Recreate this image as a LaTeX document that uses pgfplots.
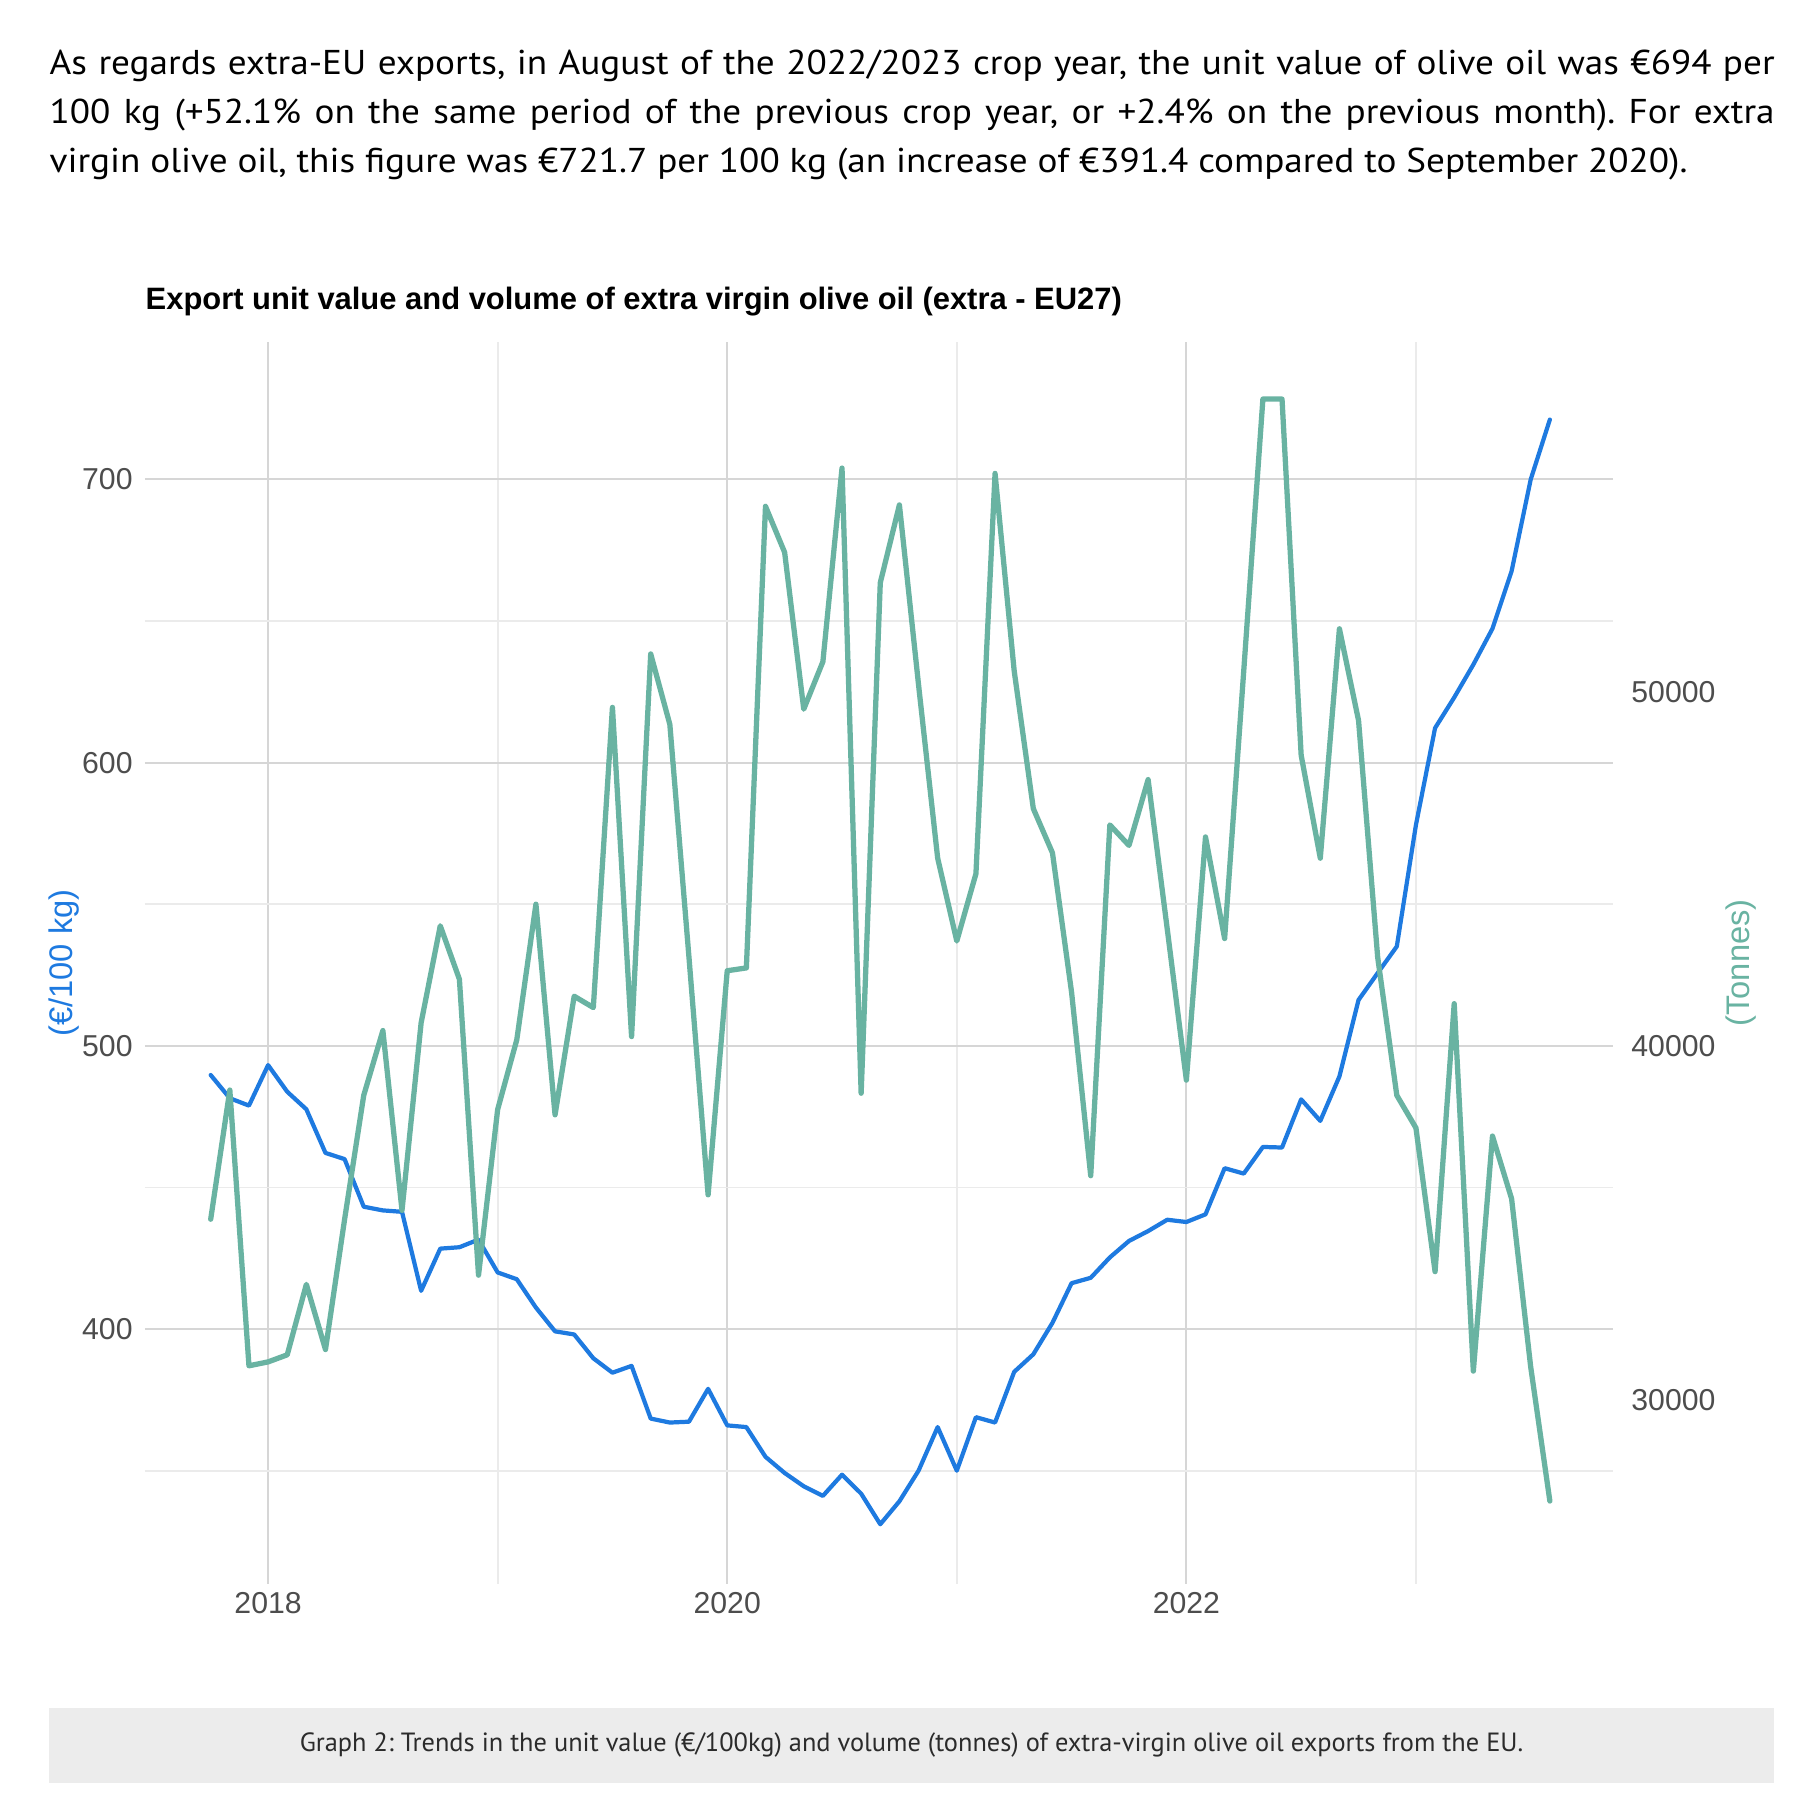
\documentclass[border=0pt]{standalone}
\usepackage{pgfplots}
\usepackage{pgfplotstable}
\pgfplotsset{compat=1.18}
\usepackage{fontspec}
\setmainfont{Liberation Sans}
\newfontfamily\ptsans{PT Sans}
\newfontfamily\ptsanswide[FakeStretch=1.08]{PT Sans}
\definecolor{blueline}{HTML}{1E7AE0}
\definecolor{greenline}{HTML}{69B3A2}
\definecolor{ticktext}{HTML}{4D4D4D}
\definecolor{gridmajor}{HTML}{D6D6D6}
\definecolor{gridminor}{HTML}{EBEBEB}
\definecolor{capbox}{HTML}{ECECEC}
\definecolor{captext}{HTML}{2B2B2B}
\frenchspacing

% month index i: 0 = Oct 2017, 3 = Jan 2018, ..., 70 = Aug 2023
\pgfplotstableread{
i v
0 489.7
1 481.5
2 478.9
3 493.2
4 483.8
5 477.6
6 462.2
7 460.0
8 443.2
9 441.9
10 441.4
11 413.5
12 428.4
13 428.9
14 431.6
15 420.0
16 417.6
17 407.6
18 399.2
19 398.1
20 389.7
21 384.6
22 387.0
23 368.4
24 367.0
25 367.3
26 378.9
27 366.0
28 365.4
29 354.9
30 349.2
31 344.5
32 341.1
33 348.6
34 341.9
35 331.1
36 339.2
37 350.0
38 365.4
39 350.0
40 368.9
41 367.0
42 384.9
43 391.1
44 402.2
45 416.2
46 418.1
47 425.3
48 431.1
49 434.6
50 438.6
51 437.8
52 440.5
53 456.8
54 454.9
55 464.3
56 464.1
57 481.1
58 473.5
59 489.2
60 516.2
61 525.7
62 535.1
63 578.0
64 612.2
65 623.0
66 634.6
67 647.3
68 667.6
69 700.0
70 721.1
}\unitvalue

\pgfplotstableread{
i t
0 35100
1 38750
2 30960
3 31070
4 31270
5 33260
6 31420
7 35100
8 38600
9 40430
10 35350
11 40650
12 43390
13 41880
14 33520
15 38200
16 40170
17 44000
18 38050
19 41400
20 41080
21 49560
22 40260
23 51070
24 49080
25 42500
26 35790
27 42120
28 42200
29 55240
30 53940
31 49510
32 50850
33 56320
34 38660
35 53080
36 55280
37 50200
38 45300
39 42960
40 44860
41 56170
42 50590
43 46700
44 45450
45 41510
46 36330
47 46240
48 45660
49 47520
50 43300
51 39030
52 45900
53 43030
54 50600
55 58270
56 58270
57 48210
58 45300
59 51780
60 49190
61 42500
62 38600
63 37680
64 33620
65 41190
66 30810
67 37450
68 35680
69 30920
70 27140
}\volume

\begin{document}
\begin{tikzpicture}
\useasboundingbox[fill=white] (0,0) rectangle (182mm,182mm);

% intro paragraph
\newcommand{\toptext}{\ptsanswide\fontsize{9.8}{13.9}\selectfont}
\node[anchor=base west, inner sep=0pt] at (4.9mm,174.5mm) {\toptext\makebox[172.5mm][s]{As regards extra-EU exports, in August of the 2022/2023 crop year, the unit value of olive oil was €694 per}};
\node[anchor=base west, inner sep=0pt] at (4.9mm,169.6mm) {\toptext\makebox[172.5mm][s]{100 kg (+52.1\% on the same period of the previous crop year, or +2.4\% on the previous month). For extra}};
\node[anchor=base west, inner sep=0pt] at (4.9mm,164.7mm) {\toptext virgin olive oil, this figure was €721.7 per 100 kg (an increase of €391.4 compared to September 2020).};

% chart title
\node[anchor=base west, inner sep=0pt, font=\bfseries\fontsize{8.8}{10}\selectfont] at (14.5mm,151.0mm) {Export unit value and volume of extra virgin olive oil (extra - EU27)};

% caption box
\fill[capbox] (4.9mm,3.7mm) rectangle (177.4mm,11.2mm);
\node[font=\ptsans\fontsize{7.5}{9}\selectfont, text=captext] at (91.15mm,7.45mm) {Graph 2: Trends in the unit value (€/100kg) and volume (tonnes) of extra-virgin olive oil exports from the EU.};

% left axis: unit value
\begin{axis}[
  at={(14.5mm,23.6mm)}, anchor=south west,
  scale only axis, width=146.8mm, height=124.2mm,
  xmin=-3.434, xmax=73.30, ymin=310.0, ymax=748.5,
  axis line style={draw=none}, tick style={draw=none},
  xtick={3,27,51}, xticklabels={2018,2020,2022}, minor xtick={15,39,63},
  ytick={400,500,600,700}, minor ytick={350,450,550,650},
  grid=both,
  major grid style={draw=gridmajor, line width=0.6pt},
  minor grid style={draw=gridminor, line width=0.5pt},
  tick label style={font=\fontsize{8.6}{10}\selectfont, text=ticktext},
  xticklabel style={yshift=0.4mm},
  /pgf/number format/assume math mode=true,
  ylabel={(€/100 kg)},
  every axis y label/.style={at={(axis description cs:-0.0552,0.5)}, anchor=center, rotate=90, font=\fontsize{9.3}{11}\selectfont, text=blueline},
]
\addplot[blueline, line width=1.2pt, line join=round, line cap=round] table[x=i, y=v] {\unitvalue};
\end{axis}

% right axis: volume
\begin{axis}[
  at={(14.5mm,23.6mm)}, anchor=south west,
  scale only axis, width=146.8mm, height=124.2mm,
  xmin=-3.434, xmax=73.30, ymin=24796, ymax=59882,
  axis x line=none, axis y line*=right,
  axis line style={draw=none}, tick style={draw=none},
  ytick={30000,40000,50000},
  yticklabel style={font=\fontsize{8.6}{10}\selectfont, text=ticktext, xshift=0.6mm, /pgf/number format/1000 sep={}},
  /pgf/number format/assume math mode=true,
  scaled y ticks=false,
  ylabel={(Tonnes)},
  every axis y label/.style={at={(axis description cs:1.0872,0.5)}, anchor=center, rotate=90, font=\fontsize{9.3}{11}\selectfont, text=greenline},
]
\addplot[greenline, line width=1.5pt, line join=round, line cap=round] table[x=i, y=t] {\volume};
\end{axis}
\end{tikzpicture}
\end{document}
